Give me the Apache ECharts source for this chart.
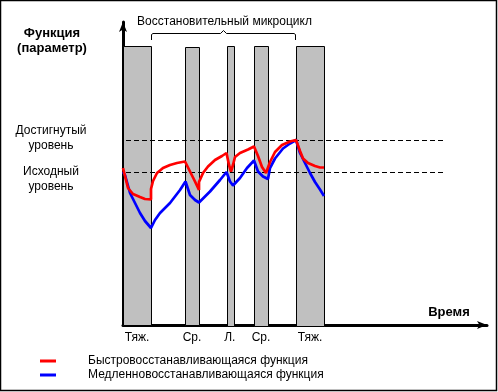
<!DOCTYPE html>
<html><head><meta charset="utf-8">
<script src="https://cdn.jsdelivr.net/npm/echarts@6/dist/echarts.min.js"></script>
<style>html,body{margin:0;padding:0;background:#fff}#c{width:498px;height:392px}</style>
</head><body><div id="c"></div>
<script>
// Time units (x) and function units (y)
const loadLabels = ['Тяж.', 'Ср.', 'Л.', 'Ср.', 'Тяж.'];
const loadStart  = [0, 62, 103.5, 131, 173];
const loadEnd    = [28, 76, 110, 145, 201];
const loadHeight = [279, 278, 279.5, 279.5, 279.5];

const levelNames  = ['Достигнутый\nуровень', 'Исходный\nуровень'];
const levelValues = [184.5, 152.5];
const levelFrom = 3, levelTo = 321;

const fastName = 'Быстровосстанавливающаяся функция';
const slowName = 'Медленновосстанавливающаяся функция';
const fastX = [0,5,10,17,22,28,28,30,34,40,47,54,62,67,72,76,76,80,85,92,99,103.5,106,108,110,112,117,125,131,135,139,143,145,147,152,159,167,173,177,180,185,192,197,201];
const fastY = [157,137,131,128,126,125.5,136,144,152,157,160,162,163.5,153.5,143.5,135,143,152,158.5,165,169,172,160,153.5,160,168,172,175.5,178.5,169,158,152,150,163,173,180,183.5,185,174,166.5,162,159,157.5,157.5];
const slowX = [0,2,7,12,17,22,28,32,37,42,47,52,57,62.5,67,72,76,82,87,97,103.5,107,110,117,124,131,135,140,145,147,152,160,167,173,177,182,187,192,197,201];
const slowY = [153,150,132,122,112,104,97,105,112,117,122,128.5,135,143.5,130,125,122.5,128.5,133.5,145,153,143.5,139.5,147,157,164.5,153.5,148.5,146,157,166.5,176.5,181.5,185,172,162,152,143,135.5,129];

const titleText = 'Восстановительный микроцикл';
const yTitle = 'Функция\n(параметр)';
const xTitle = 'Время';

const FONT = '"Liberation Sans", Arial, sans-serif';
const chart = echarts.init(document.getElementById('c'), null, {renderer: 'canvas'});

const zip = (a, b) => a.map((v, i) => [v, b[i]]);
const loads = loadStart.map((s, i) => [s, loadEnd[i], loadHeight[i], loadLabels[i]]);

const option = {
  animation: false,
  backgroundColor: '#fff',
  grid: {left: 123, top: 22, width: 364, height: 303, containLabel: false},
  xAxis: {type: 'value', min: 0, max: 364, splitLine: {show: false}, axisTick: {show: false}, axisLabel: {show: false},
    axisLine: {show: true, lineStyle: {color: '#000', width: 3}, symbol: ['none', 'arrow'], symbolSize: [6, 10], symbolOffset: [0, 0]}},
  yAxis: {type: 'value', min: 0, max: 303, splitLine: {show: false}, axisTick: {show: false}, axisLabel: {show: false},
    axisLine: {show: true, lineStyle: {color: '#000', width: 3}, symbol: ['none', 'arrow'], symbolSize: [6, 10], symbolOffset: [0, 0]}},
  legend: {
    orient: 'vertical', left: 35, top: 350, itemWidth: 16, itemHeight: 3, itemGap: 2,
    data: [{name: fastName, icon: 'rect'}, {name: slowName, icon: 'rect'}],
    textStyle: {fontFamily: FONT, fontSize: 12, color: '#000', padding: [0, 0, 0, 27]},
    selectedMode: false
  },
  series: [
    {
      type: 'custom', name: 'loads', z: 1,
      data: loads,
      renderItem: function (params, api) {
        const p0 = api.coord([api.value(0), api.value(2)]);
        const p1 = api.coord([api.value(1), 0]);
        const s = loads[params.dataIndex];
        return {type: 'group', children: [
          {type: 'rect', shape: {x: Math.round(p0[0]) + 0.5, y: Math.round(p0[1]) + 0.5, width: Math.round(p1[0] - p0[0]), height: Math.round(p1[1] - p0[1])},
            style: {fill: '#c0c0c0', stroke: '#000', lineWidth: 1}},
          {type: 'text', style: {text: s[3], x: (p0[0] + p1[0]) / 2, y: p1[1] + 7, align: 'center', verticalAlign: 'top',
            font: '12px ' + FONT, fill: '#000'}}
        ]};
      }
    },
    {type: 'line', name: 'lvl0', data: [[levelFrom, levelValues[0]], [levelTo, levelValues[0]]], symbol: 'none', z: 2,
      lineStyle: {color: '#000', width: 1, type: [5, 3]}},
    {type: 'line', name: 'lvl1', data: [[levelFrom, levelValues[1]], [levelTo, levelValues[1]]], symbol: 'none', z: 2,
      lineStyle: {color: '#000', width: 1, type: [5, 3]}},
    {type: 'line', name: fastName, data: zip(fastX, fastY), symbol: 'none', z: 4, color: '#ff0000',
      lineStyle: {color: '#ff0000', width: 2.7}},
    {type: 'line', name: slowName, data: zip(slowX, slowY), symbol: 'none', z: 3, color: '#0000ff',
      lineStyle: {color: '#0000ff', width: 2.7}}
  ]
};
chart.setOption(option);

// Annotations positioned from the data scale
const px = v => chart.convertToPixel({gridIndex: 0}, v);
const bStart = px([loadEnd[0], 0])[0];
const bEnd = px([loadStart[4], 0])[0];
const bMid = (bStart + bEnd) / 2;
const lvl0 = px([0, levelValues[0]])[1];
const lvl1 = px([0, levelValues[1]])[1];
const braceY = 33.5;
chart.setOption({graphic: [
  {type: 'rect', shape: {x: 0.5, y: 0.5, width: 496, height: 390}, style: {fill: 'none', stroke: '#000', lineWidth: 1.5}, silent: true},
  {type: 'polyline', shape: {points: [[bStart + 0.5, 40], [bStart + 0.5, braceY + 1], [bStart + 2, braceY], [bMid - 3, braceY], [bMid, braceY - 3], [bMid + 3, braceY], [bEnd - 2, braceY], [bEnd - 0.5, braceY + 1], [bEnd - 0.5, 40]]},
    style: {stroke: '#000', lineWidth: 1, fill: 'none'}},
  {type: 'text', style: {text: titleText, x: bMid + 1, y: 22, align: 'center', verticalAlign: 'middle', font: '12px ' + FONT, fill: '#000'}},
  {type: 'text', style: {text: yTitle, x: 52, y: 41, align: 'center', verticalAlign: 'middle', font: 'bold 13px ' + FONT, fill: '#000', lineHeight: 15}},
  {type: 'text', style: {text: levelNames[0], x: 51, y: lvl0 - 2, align: 'center', verticalAlign: 'middle', font: '12px ' + FONT, fill: '#000', lineHeight: 15}},
  {type: 'text', style: {text: levelNames[1], x: 51, y: lvl1 + 7, align: 'center', verticalAlign: 'middle', font: '12px ' + FONT, fill: '#000', lineHeight: 15}},
  {type: 'text', style: {text: xTitle, x: 449, y: 312, align: 'center', verticalAlign: 'middle', font: 'bold 13px ' + FONT, fill: '#000'}}
]});
</script></body></html>
